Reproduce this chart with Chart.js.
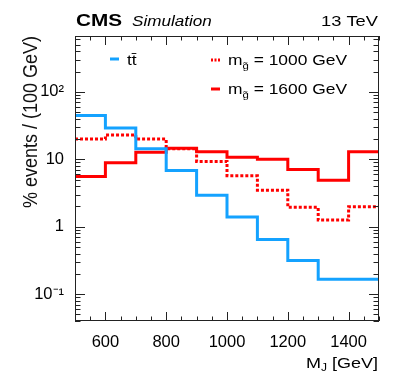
<!DOCTYPE html>
<html><head><meta charset="utf-8">
<script src="https://cdn.jsdelivr.net/npm/chart.js@4/dist/chart.umd.min.js"></script>
<style>html,body{margin:0;padding:0;background:#fff;}#wrap{width:399px;height:383px;}</style>
</head><body><div id="wrap"><canvas id="c" width="399" height="383"></canvas></div>
<script>
// ---- data ----
const binEdges = [500,600,700,800,900,1000,1100,1200,1300,1400,1500];
const ttbar = [44.7,29.1,14.4,6.8,2.94,1.39,0.645,0.316,0.167,0.167];
const gluino1000 = [20,22.9,20,14.3,9.3,5.7,3.49,1.94,1.26,1.98];
const gluino1600 = [5.55,8.9,12.7,14.6,13,10.7,10,7.05,4.9,13];
const xTickValues = [600,800,1000,1200,1400];
const yTickValues = [0.1,1,10,100];
const yTickLabels = ['10\u207B\u00B9','1','10','10\u00B2'];
const seriesNames = ['t\u0074\u0304','1000 GeV','1600 GeV'];

const BLUE = 'rgb(20,162,255)';
const RED = '#ff0000';
const SX = 1.2; // horizontal text stretch of the original

function toSteps(vals){
  return binEdges.map((e,i)=>({x:e, y: vals[Math.min(i, vals.length-1)]}));
}

function richText(ctx, segs, x, y, align, sx){
  let w = 0;
  for (const s of segs){ ctx.font = s.font; s.w = ctx.measureText(s.t).width; w += s.w; }
  let start = align === 'right' ? x - w*sx : x;
  ctx.save();
  ctx.translate(start, y);
  ctx.scale(sx, 1);
  ctx.textAlign = 'left'; ctx.textBaseline = 'alphabetic'; ctx.fillStyle = '#000';
  let cx = 0;
  for (const s of segs){ ctx.font = s.font; ctx.fillText(s.t, cx, s.dy||0); cx += s.w; }
  ctx.restore();
}

const decor = {
  id:'decor',
  afterDatasetsDraw(chart){
    const {ctx, chartArea:a, scales:{x, y}} = chart;
    ctx.save();
    // frame
    ctx.strokeStyle = '#222'; ctx.lineWidth = 1;
    ctx.strokeRect(a.left+0.5, a.top+0.5, a.right-a.left-1, a.bottom-a.top-1);
    ctx.beginPath();
    for (let v = x.min; v <= x.max; v += 50){
      const px = Math.round(x.getPixelForValue(v)) + 0.5;
      const len = xTickValues.includes(v) ? 9 : 4.5;
      ctx.moveTo(px, a.bottom); ctx.lineTo(px, a.bottom - len);
      ctx.moveTo(px, a.top); ctx.lineTo(px, a.top + len);
    }
    for (let e = -2; e <= 3; e++){
      for (let k = 1; k <= 9; k++){
        const v = k * Math.pow(10, e);
        if (v < y.min || v > y.max) continue;
        const py = Math.round(y.getPixelForValue(v)) + 0.5;
        const len = k === 1 ? 10 : 5.5;
        ctx.moveTo(a.left, py); ctx.lineTo(a.left + len, py);
        ctx.moveTo(a.right, py); ctx.lineTo(a.right - len, py);
      }
    }
    ctx.stroke();

    // legend samples
    ctx.lineWidth = 3;
    ctx.strokeStyle = BLUE; ctx.setLineDash([]);
    ctx.beginPath(); ctx.moveTo(110, 59); ctx.lineTo(119, 59); ctx.stroke();
    ctx.strokeStyle = RED; ctx.setLineDash([2,1.5]);
    ctx.beginPath(); ctx.moveTo(211, 60); ctx.lineTo(220, 60); ctx.stroke();
    ctx.setLineDash([]);
    ctx.beginPath(); ctx.moveTo(211, 89); ctx.lineTo(220, 89); ctx.stroke();
    ctx.restore();

    const F = 'Liberation Sans, Arial, sans-serif';
    richText(ctx, [{t:seriesNames[0], font:'14.5px '+F}], 127, 65, 'left', SX);
    richText(ctx, [{t:'m', font:'14.5px '+F},{t:'g\u0303', font:'9.5px '+F, dy:4},{t:' = '+seriesNames[1], font:'14.5px '+F}], 228, 65, 'left', SX);
    richText(ctx, [{t:'m', font:'14.5px '+F},{t:'g\u0303', font:'9.5px '+F, dy:4},{t:' = '+seriesNames[2], font:'14.5px '+F}], 228, 94, 'left', SX);

    richText(ctx, [{t:'CMS', font:'bold 17px '+F}], 76, 26, 'left', 1.22);
    richText(ctx, [{t:'Simulation', font:'italic 15px '+F}], 132, 26, 'left', 1.14);
    richText(ctx, [{t:'13 TeV', font:'15px '+F}], 378, 26, 'right', 1.22);

    richText(ctx, [{t:'M', font:'15px '+F},{t:'J', font:'10px '+F, dy:3},{t:' [GeV]', font:'15px '+F}], 378, 368, 'right', SX);

    ctx.save();
    ctx.translate(37, a.top);
    ctx.rotate(-Math.PI/2);
    ctx.scale(1, 1.08);
    ctx.font = '18px '+F; ctx.fillStyle = '#111';
    ctx.textAlign = 'right'; ctx.textBaseline = 'alphabetic';
    ctx.fillText('% events / (100 GeV)', 0, 0);
    ctx.restore();
  }
};

new Chart(document.getElementById('c'), {
  type: 'line',
  data: { datasets: [
    { label: seriesNames[0], data: toSteps(ttbar), borderColor: BLUE, borderWidth: 3, stepped: true, pointRadius: 0, fill: false },
    { label: seriesNames[1], data: toSteps(gluino1000), borderColor: RED, borderWidth: 3, borderDash: [3,2], stepped: true, pointRadius: 0, fill: false },
    { label: seriesNames[2], data: toSteps(gluino1600), borderColor: RED, borderWidth: 3, stepped: true, pointRadius: 0, fill: false }
  ]},
  options: {
    responsive: false, animation: false, devicePixelRatio: 1,
    layout: { padding: { left: 0, top: 36, right: 20, bottom: 0 } },
    plugins: { legend: { display: false }, tooltip: { enabled: false } },
    scales: {
      x: {
        type: 'linear', min: 500, max: 1500,
        grid: { display: false }, border: { display: false },
        afterFit(s){ s.height = 62; },
        afterBuildTicks(s){ s.ticks = xTickValues.map(v => ({ value: v })); },
        ticks: { font: { family: 'Liberation Sans', size: 16.5 }, color: '#000', padding: 4, maxRotation: 0, autoSkip: false,
                 callback: (v) => String(v) }
      },
      y: {
        type: 'logarithmic', min: 0.04, max: 675,
        grid: { display: false }, border: { display: false },
        afterFit(s){ s.width = 75; },
        afterBuildTicks(s){ s.ticks = yTickValues.map(v => ({ value: v })); },
        ticks: { font: { family: 'Liberation Sans', size: 16.5 }, color: '#000', padding: 3, autoSkip: false,
                 callback: (v, i) => yTickLabels[i] }
      }
    }
  },
  plugins: [decor]
});
</script></body></html>
